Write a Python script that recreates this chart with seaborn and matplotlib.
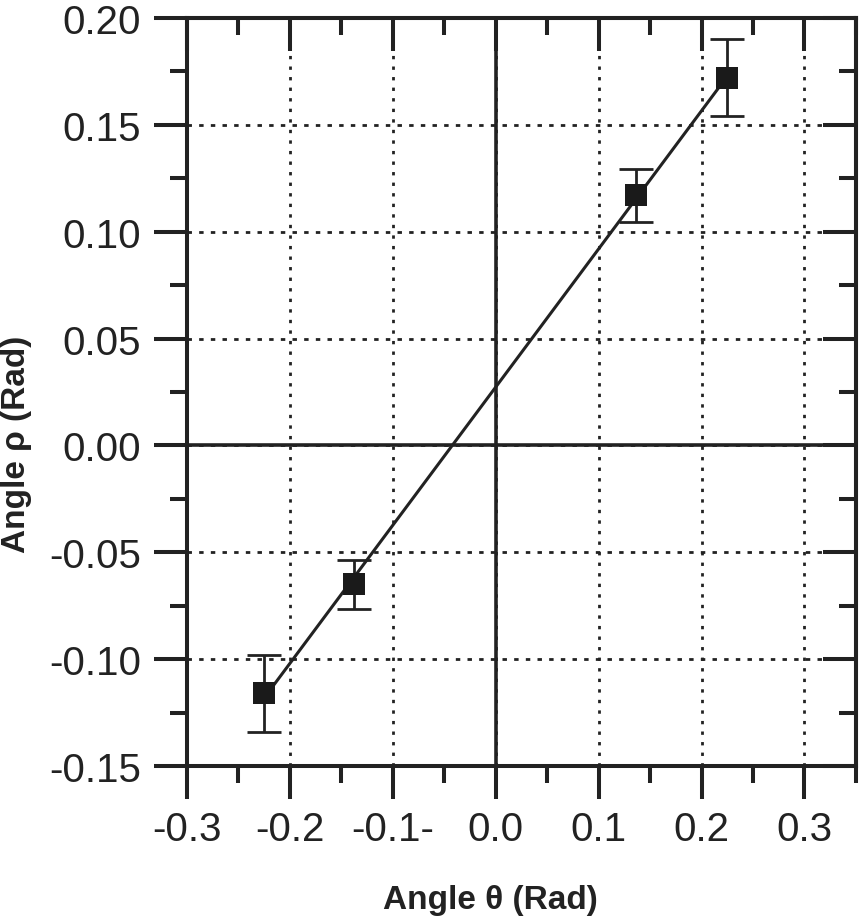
import numpy as np
import pandas as pd
import seaborn as sns
import matplotlib.pyplot as plt
from matplotlib.ticker import MultipleLocator, FixedLocator, FixedFormatter

# measured angles
theta = [-0.225, -0.138, 0.136, 0.225]
rho = [-0.116, -0.065, 0.117, 0.172]
rho_err = [0.018, 0.0115, 0.0125, 0.018]

x_ticks = [-0.3, -0.2, -0.1, 0.0, 0.1, 0.2, 0.3]
x_labels = ["-0.3", "-0.2", "-0.1-", "0.0", "0.1", "0.2", "0.3"]
y_ticks = [-0.15, -0.10, -0.05, 0.00, 0.05, 0.10, 0.15, 0.20]
y_labels = ["-0.15", "-0.10", "-0.05", "0.00", "0.05", "0.10", "0.15", "0.20"]

df = pd.DataFrame({"theta": theta, "rho": rho, "err": rho_err})

sns.set_style("ticks")
plt.rcParams["font.family"] = ["Liberation Sans", "DejaVu Sans"]

ink = "#222222"
fig = plt.figure(figsize=(8.6, 9.2), dpi=100)
ax = fig.add_axes([0.2174, 0.1663, 0.9953 - 0.2174, 0.9793 - 0.1663])

# grid + zero lines
for xt in x_ticks:
    ax.axvline(xt, color=ink, lw=2.0, ls=(0, (1.2, 2.6)), zorder=1)
for yt in y_ticks:
    ax.axhline(yt, color=ink, lw=2.0, ls=(0, (1.6, 2.6)), zorder=1)
ax.axhline(0, color=ink, lw=2.6, zorder=2)
ax.axvline(0, color=ink, lw=2.6, zorder=2)

# linear fit
sns.regplot(data=df, x="theta", y="rho", ci=None, scatter=False, truncate=True,
            line_kws={"color": ink, "lw": 2.2, "zorder": 3}, ax=ax)

ax.errorbar(df["theta"], df["rho"], yerr=df["err"], fmt="none", ecolor=ink,
            elinewidth=2.0, capsize=12.5, capthick=2.0, zorder=4)
sns.scatterplot(data=df, x="theta", y="rho", marker="s", s=250, color="#1a1a1a",
                edgecolor="#1a1a1a", linewidth=0, zorder=5, ax=ax)

ax.set_xlim(-0.3, 0.35)
ax.set_ylim(-0.15, 0.20)

ax.xaxis.set_major_locator(FixedLocator(x_ticks))
ax.xaxis.set_major_formatter(FixedFormatter(x_labels))
ax.xaxis.set_minor_locator(MultipleLocator(0.05))
ax.yaxis.set_major_locator(FixedLocator(y_ticks))
ax.yaxis.set_major_formatter(FixedFormatter(y_labels))
ax.yaxis.set_minor_locator(MultipleLocator(0.025))

ax.tick_params(which="major", direction="out", length=24, width=2.9,
               labelsize=29, colors=ink, pad=9)
ax.tick_params(which="minor", direction="out", length=12, width=2.9, colors=ink)
ax.tick_params(axis="x", which="major", pad=8)

for sp in ax.spines.values():
    sp.set_linewidth(2.9)
    sp.set_color(ink)
    sp.set_visible(True)

# inward ticks on top and right
top = ax.secondary_xaxis("top")
top.xaxis.set_major_locator(FixedLocator(x_ticks))
top.xaxis.set_minor_locator(MultipleLocator(0.05))
top.tick_params(which="major", direction="in", length=24, width=2.9, labeltop=False, colors=ink)
top.tick_params(which="minor", direction="in", length=12, width=2.9, colors=ink)
top.spines["top"].set_linewidth(2.9)

right = ax.secondary_yaxis("right")
right.yaxis.set_major_locator(FixedLocator(y_ticks))
right.yaxis.set_minor_locator(MultipleLocator(0.025))
right.tick_params(which="major", direction="in", length=24, width=2.9, labelright=False, colors=ink)
right.tick_params(which="minor", direction="in", length=12, width=2.9, colors=ink)
right.spines["right"].set_linewidth(2.9)

ax.set_xlabel("Angle θ (Rad)", fontsize=24, fontweight="bold", color=ink)
ax.set_ylabel("Angle ρ (Rad)", fontsize=24, fontweight="bold", color=ink)
ax.xaxis.set_label_coords(0.453, -0.158)
ax.yaxis.set_label_coords(-0.232, 0.432)

fig.savefig("out.png", dpi=100)
